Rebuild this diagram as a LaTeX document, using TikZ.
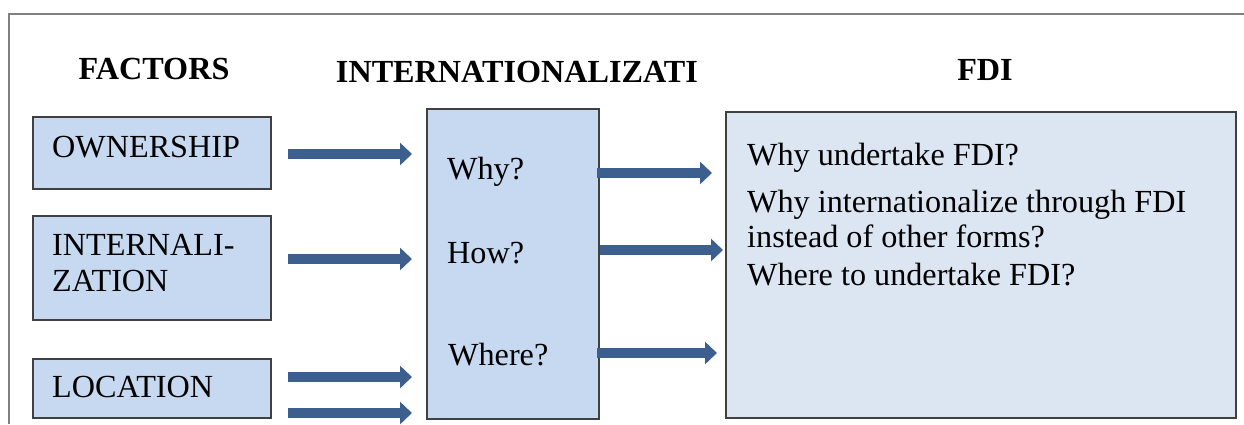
\documentclass[tikz,border=0pt]{standalone}
\usepackage{fontspec}
\setmainfont{Liberation Serif}
\usetikzlibrary{arrows.meta,calc}
\definecolor{boxblue}{HTML}{C6D9F0}
\definecolor{fdiblue}{HTML}{DCE6F2}
\definecolor{arrblue}{HTML}{3D5F8E}
\definecolor{edgegray}{HTML}{404040}
\definecolor{framegray}{HTML}{808080}
\tikzset{
  box/.style={draw=edgegray, line width=1.8pt, fill=boxblue, rectangle, inner sep=0pt, anchor=north west},
  fdibox/.style={box, fill=fdiblue},
  txt/.style={anchor=base west, inner sep=0pt, font=\fontsize{32.2}{36}\selectfont},
  head/.style={anchor=base, inner sep=0pt, font=\fontsize{32.2}{36}\selectfont\bfseries},
  arr/.style={draw=arrblue, line width=10pt, -{Triangle[width=22pt,length=12pt]}, arrblue},
}
\begin{document}
\begin{tikzpicture}[x=1pt,y=-1pt]
\useasboundingbox (0,0) rectangle (1244,424);
% frame
\draw[framegray, line width=2pt] (9,424) -- (9,14) -- (1244,14);
% headings
\node[head] (hf) at (154,79) {FACTORS};
\node[head] (hi) at (517,82) {INTERNATIONALIZATI};
\node[head] (hd) at (985,80) {FDI};
% left boxes
\node[box, minimum width=238pt, minimum height=72pt] (own) at (32,116) {};
\node[box, minimum width=238pt, minimum height=104pt] (int) at (32,215) {};
\node[box, minimum width=238pt, minimum height=59pt] (loc) at (32,358) {};
\node[txt] (townr) at (52,157) {OWNERSHIP};
\node[txt] (tint1) at (52,255) {INTERNALI-};
\node[txt] (tint2) at (52,291) {ZATION};
\node[txt] (tloc) at (52,397) {LOCATION};
% middle box
\node[box, minimum width=172pt, minimum height=310pt] (mid) at (426,108) {};
\node[txt] (twhy) at (447,179) {Why?};
\node[txt] (thow) at (447,263) {How?};
\node[txt] (twhere) at (448,365) {Where?};
% FDI box
\node[fdibox, minimum width=510pt, minimum height=306pt] (fdi) at (725,111) {};
\node[txt] (q1) at (747,165) {Why undertake FDI?};
\node[txt] (q2) at (747,212) {Why internationalize through FDI};
\node[txt] (q3) at (747,247) {instead of other forms?};
\node[txt] (q4) at (747,285) {Where to undertake FDI?};
% arrow anchors
\coordinate (a1) at (288,154);
\coordinate (a2) at (288,259);
\coordinate (a3) at (288,377);
\coordinate (a4) at (288,413);
\coordinate (b1) at (712,173);
\coordinate (b2) at (723,250);
\coordinate (b3) at (717,353);
% arrows left -> middle
\draw[arr, shorten >=14pt] (a1) -- (a1 -| mid.west);
\draw[arr, shorten >=14pt] (a2) -- (a2 -| mid.west);
\draw[arr, shorten >=14pt] (a3) -- (a3 -| mid.west);
\draw[arr, shorten >=14pt] (a4) -- (a4 -| mid.west);
% arrows middle -> FDI
\draw[arr, shorten <=-3pt] (b1 -| mid.east) -- (b1);
\draw[arr, shorten <=-3pt] ($(b2 -| mid.east)+(3,0)$) -- (b2);
\draw[arr, shorten <=-3pt] (b3 -| mid.east) -- (b3);
\end{tikzpicture}
\end{document}
